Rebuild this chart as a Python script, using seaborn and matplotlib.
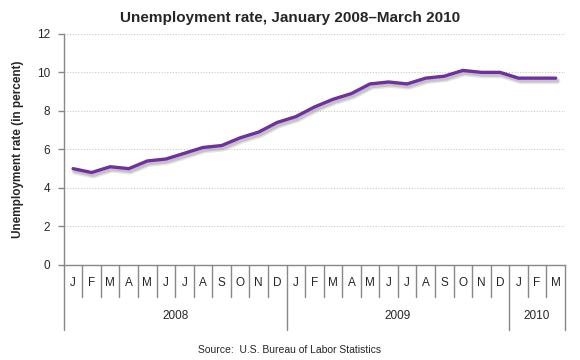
import numpy as np
import pandas as pd
import matplotlib
matplotlib.use('Agg')
import matplotlib.pyplot as plt
import matplotlib.patheffects as pe
import matplotlib.transforms as mtransforms
import seaborn as sns

# monthly unemployment rate, Jan 2008 - Mar 2010
months = ['J', 'F', 'M', 'A', 'M', 'J', 'J', 'A', 'S', 'O', 'N', 'D',
          'J', 'F', 'M', 'A', 'M', 'J', 'J', 'A', 'S', 'O', 'N', 'D',
          'J', 'F', 'M']
rate = [5.0, 4.8, 5.1, 5.0, 5.4, 5.5, 5.8, 6.1, 6.2, 6.6, 6.9, 7.4,
        7.7, 8.2, 8.6, 8.9, 9.4, 9.5, 9.4, 9.7, 9.8, 10.1, 10.0, 10.0,
        9.7, 9.7, 9.7]
years = ['2008', '2009', '2010']
year_months = [12, 12, 3]

df = pd.DataFrame({'idx': np.arange(len(rate)), 'rate': rate})

sns.set_style('white')
plt.rcParams['font.family'] = ['Liberation Sans', 'DejaVu Sans']

fig = plt.figure(figsize=(5.8, 3.6), dpi=100)
ax = fig.add_axes([0.110, 0.264, 0.864, 0.642])

# soft shadow under the line
shadow = [pe.SimpleLineShadow(offset=(1.2, -2.0), shadow_color='#999999', alpha=0.25, linewidth=4.5),
          pe.SimpleLineShadow(offset=(1.2, -2.0), shadow_color='#888888', alpha=0.35),
          pe.Normal()]
sns.lineplot(data=df, x='idx', y='rate', ax=ax, color='#7030A0', linewidth=2.4,
             path_effects=shadow)

ax.set_xlim(-0.5, len(rate) - 0.5)
ax.set_ylim(0, 12)
ax.set_yticks(range(0, 13, 2))
ax.tick_params(axis='y', labelsize=8.5, length=4, width=1, color='#888888', pad=6, left=True)
ax.yaxis.grid(True, linestyle=(0, (1, 1.5)), color='#c8c8c8', linewidth=0.8)
ax.xaxis.grid(False)

for s in ['top', 'right']:
    ax.spines[s].set_visible(False)
for s in ['left', 'bottom']:
    ax.spines[s].set_color('#888888')
    ax.spines[s].set_linewidth(1)

ax.set_xticks(np.arange(len(months)))
ax.set_xticklabels(months, fontsize=8.5)
ax.tick_params(axis='x', length=0, pad=9)
ax.set_xlabel('')
ax.set_ylabel('Unemployment rate (in percent)', fontsize=8.5, fontweight='bold', labelpad=9)

# month separators and year group lines below the axis
trans = mtransforms.blended_transform_factory(ax.transData, ax.transAxes)
h = 231.0  # axes height in px
month_bottom = -32 / h
year_bottom = -65 / h
bounds = np.cumsum([0] + year_months) - 0.5
for b in np.arange(len(months) + 1) - 0.5:
    if b in bounds:
        ax.plot([b, b], [0, year_bottom], transform=trans, color='#888888', lw=1, clip_on=False)
    else:
        ax.plot([b, b], [0, month_bottom], transform=trans, color='#888888', lw=1, clip_on=False)

for i, y in enumerate(years):
    c = (bounds[i] + bounds[i + 1]) / 2
    ax.text(c, -51 / h, y, transform=trans, ha='center', va='center', fontsize=8.5)

fig.text(0.5, 1 - 18 / 360, 'Unemployment rate, January 2008\u2013March 2010',
         ha='center', va='center', fontsize=11, fontweight='bold')
fig.text(290 / 580, 1 - 350 / 360, 'Source:  U.S. Bureau of Labor Statistics',
         ha='center', va='center', fontsize=7.5)

fig.savefig('out.png', dpi=100)
